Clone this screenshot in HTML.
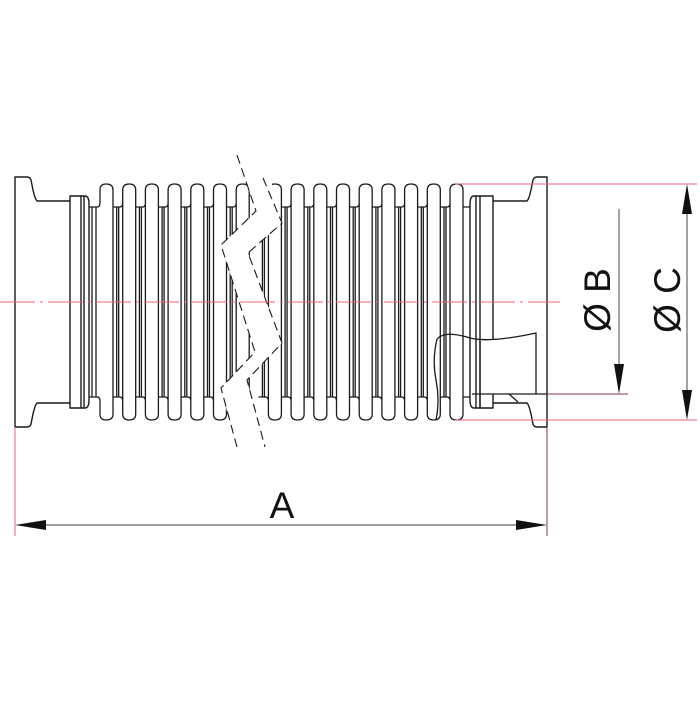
<!DOCTYPE html>
<html><head><style>html,body{margin:0;padding:0;background:#fff}</style></head><body>
<svg width="700" height="700" viewBox="0 0 700 700" xmlns="http://www.w3.org/2000/svg">
<rect width="700" height="700" fill="#fff"/>
<g fill="none" stroke="#1a1a1a" stroke-width="1.4" stroke-linejoin="round">
<path d="M70,201 H37 Q35,199 33,190 L31,180 Q30,177 27,177 H15 V427 H27 Q30,427 31,424 L33,414 Q35,405 37,403 H70"/>
<rect x="70" y="196" width="11" height="212"/>
<path d="M81,196 H85 Q89,196 89,204 V400 Q89,408 85,408 H81 M84,196 V408"/>
<path d="M493,201 H527 Q529,199 531,190 L533,180 Q534,177 537,177 H547 V427 H537 Q534,427 533,424 L531,414 Q529,405 527,403 H493"/>
<rect x="476" y="196" width="17" height="212"/>
<path d="M476,196 H474 Q470,196 470,204 V400 Q470,408 474,408 H476 M480,196 V408"/>
</g>
<g fill="none" stroke="#1a1a1a" stroke-width="1.3">
<path d="
M89,207 H97 Q100,207 100,203 V190 Q100,184 106,184 Q113,184 113,190 V414 Q113,420 106,420 Q100,420 100,414 V401 Q100,397 97,397 H89
M92,207 V397 M96,207 V397"/>
</g>
<g id="conv" fill="none" stroke="#1a1a1a" stroke-width="1.3"></g>
<polygon id="brk" points="237,150 256,212 221,245 255,352 221,388 237,450 265,450 247,380 282,343 248,253 282,223 263,150" fill="#fff"/>
<path d="M482,341 Q500,339 536,333 V394 H482 Z" fill="#fff"/>
<g fill="none" stroke="#1a1a1a" stroke-width="1.3">
<path d="M437,339 Q445,330 470,338 Q490,343 536,333 V394 M472,394 H547 M436,420 Q440,400 436,380 Q432,360 437,339 M480,341 V408 M509,394 L518,402"/>
</g>
<g fill="none" stroke="#1a1a1a" stroke-width="1.1" stroke-dasharray="9,5">
<polyline points="237,155 256,211 221,245 255,352 221,388 237,447"/>
<polyline points="263,178 282,223 248,253 282,343 247,380 265,447"/>
</g>
<line x1="0" y1="302" x2="560" y2="302" stroke="#e8647e" stroke-width="1" stroke-dasharray="35,5,3,5"/>
<g stroke="#e8647e" stroke-width="1">
<line x1="455" y1="184" x2="697" y2="184"/>
<line x1="455" y1="420" x2="697" y2="420"/>
<line x1="15" y1="427" x2="15" y2="536"/>
</g>
<line x1="547" y1="427" x2="547" y2="536" stroke="#8a3050" stroke-width="1"/>
<line x1="547" y1="394" x2="628" y2="394" stroke="#8a3050" stroke-width="1"/>
<g stroke="#666" stroke-width="1.2">
<line x1="619" y1="209" x2="619" y2="385"/>
<line x1="687" y1="190" x2="687" y2="414"/>
<line x1="20" y1="525" x2="540" y2="525"/>
</g>
<g fill="#111">
<polygon points="619,394 614,364 624,364"/>
<polygon points="687,184 682,214 692,214"/>
<polygon points="687,420 682,390 692,390"/>
<polygon points="15,525 46,520 46,530"/>
<polygon points="547,525 516,520 516,530"/>
</g>
<g font-family="Liberation Sans, sans-serif" font-size="37" fill="#111">
<text x="282" y="518" text-anchor="middle">A</text>
<text transform="translate(610,300) rotate(-90)" text-anchor="middle">Ø B</text>
<text transform="translate(680,300) rotate(-90)" text-anchor="middle">Ø C</text>
</g>
<script>
var g=document.getElementById('conv'),d='';
function peak(x){
 d+='M'+(x-10)+',207 H'+(x-3)+' Q'+x+',207 '+x+',203 V190 Q'+x+',184 '+(x+6.5)+',184 Q'+(x+13)+',184 '+(x+13)+',190 V414 Q'+(x+13)+',420 '+(x+6.5)+',420 Q'+x+',420 '+x+',414 V401 Q'+x+',397 '+(x-3)+',397 H'+(x-10)+' ';
 d+='M'+x+',203 V401 ';
}
for(var x=122.7;x<240;x+=22.7){peak(x);d+='M'+(x-6)+',207 V397 M'+(x-4)+',207 V397 ';}
for(var x=450;x>250;x-=22.7){peak(x);d+='M'+(x-6)+',207 V397 M'+(x-4)+',207 V397 ';}
d+='M463,207 H470 M463,397 H470';
var p=document.createElementNS('http://www.w3.org/2000/svg','path');p.setAttribute('d',d);g.appendChild(p);
</script>
</svg>
</body></html>
